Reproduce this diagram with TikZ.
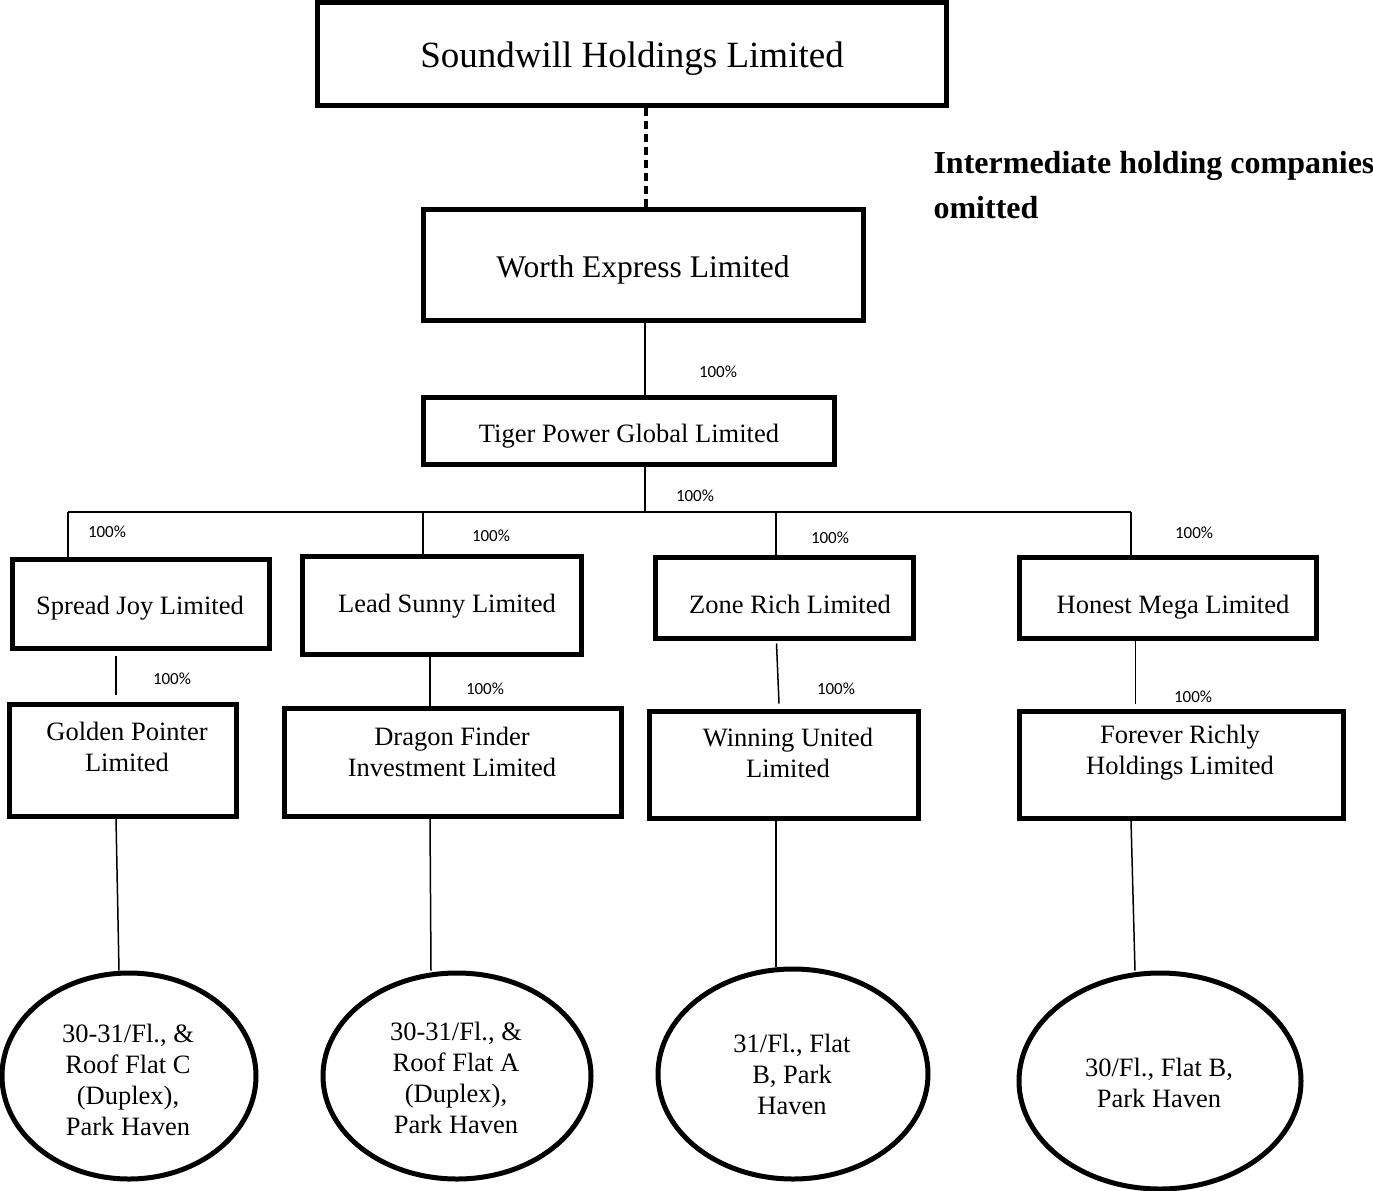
\documentclass[tikz,border=0pt]{standalone}
\usepackage{fontspec}
\setmainfont{Liberation Serif}
\newfontfamily\pctfont{Carlito}
\usetikzlibrary{shapes.geometric}
\begin{document}
\begin{tikzpicture}[x=1pt,y=-1pt,
  box/.style={draw,rectangle,line width=5pt,inner sep=0pt},
  oval/.style={draw,ellipse,line width=5pt,inner sep=0pt},
  txt/.style={align=center,font=\fontsize{26.5}{31}\selectfont},
  pct/.style={font=\pctfont\fontsize{17}{20}\selectfont},
  conn/.style={line width=1.5pt},
  dotline/.style={line width=4pt,dash pattern=on 8pt off 5pt}]
\useasboundingbox (0,0) rectangle (1373,1191);

% boxes
\node[box,minimum width=629pt,minimum height=103pt] (sw) at (631.5,53.5) {};
\node[box,minimum width=440pt,minimum height=111pt] (we) at (643,264.5) {};
\node[box,minimum width=411pt,minimum height=67pt] (tp) at (628.5,430.5) {};
\node[box,minimum width=257.5pt,minimum height=89pt] (sj) at (141,603.5) {};
\node[box,minimum width=279pt,minimum height=98pt] (ls) at (441.5,605) {};
\node[box,minimum width=258pt,minimum height=81pt] (zr) at (784,597.5) {};
\node[box,minimum width=297pt,minimum height=81pt] (hm) at (1167.5,597.5) {};
\node[box,minimum width=227pt,minimum height=112pt] (gp) at (122.5,760) {};
\node[box,minimum width=337pt,minimum height=108pt] (df) at (452.5,762) {};
\node[box,minimum width=269pt,minimum height=107pt] (wu) at (783.5,764.5) {};
\node[box,minimum width=324pt,minimum height=107pt] (fr) at (1181,764.5) {};

% ellipses
\node[oval,minimum width=254pt,minimum height=206pt] (e1) at (129,1076) {};
\node[oval,minimum width=268pt,minimum height=206pt] (e2) at (457,1076) {};
\node[oval,minimum width=270pt,minimum height=210pt] (e3) at (793,1074) {};
\node[oval,minimum width=282pt,minimum height=216pt] (e4) at (1160,1081) {};

% texts
\node[align=center,font=\fontsize{37}{44}\selectfont] (tsw) at (632,59) {Soundwill Holdings Limited};
\node[align=center,font=\fontsize{31.5}{37}\selectfont] (twe) at (643,269.5) {Worth Express Limited};
\node[txt] (ttp) at (629,436) {Tiger Power Global Limited};
\node[txt] (tsj) at (140,608) {Spread Joy Limited};
\node[txt] (tls) at (447,606) {Lead Sunny Limited};
\node[txt] (tzr) at (790,604) {Zone Rich Limited};
\node[txt] (thm) at (1173,607) {Honest Mega Limited};
\node[txt] (tgp) at (127,747) {Golden Pointer\\Limited};
\node[txt] (tdf) at (452,752) {Dragon Finder\\Investment Limited};
\node[txt] (twu) at (788,753) {Winning United\\Limited};
\node[txt] (tfr) at (1180,753) {Forever Richly\\Holdings Limited};
\node[txt] (te1) at (128,1080) {30-31/Fl., \&\\Roof Flat C\\(Duplex),\\Park Haven};
\node[txt] (te2) at (456,1077.5) {30-31/Fl., \&\\Roof Flat A\\(Duplex),\\Park Haven};
\node[txt] (te3) at (792,1074) {31/Fl., Flat\\B, Park\\Haven};
\node[txt] (te4) at (1159,1082.5) {30/Fl., Flat B,\\Park Haven};
\node[anchor=west,align=left,font=\bfseries\fontsize{32}{45}\selectfont] (note) at (930,185.5) {Intermediate holding companies\\omitted};

% connectors
\draw[dotline] ([xshift=14.5pt]sw.south) -- ([xshift=3pt]we.north);
\draw[conn] ([xshift=2pt]we.south) -- ([xshift=16.5pt]tp.north);
\coordinate (bar) at (645,512);
\coordinate (b1) at (68,512);
\coordinate (b2) at (423,512);
\coordinate (b3) at (776,512);
\coordinate (b4) at (1131,512);
\draw[conn] ([xshift=16.5pt]tp.south) -- (bar);
\draw[conn] (b1) -- (b4);
\draw[conn] (b1) -- (b1 |- sj.north);
\draw[conn] (b2) -- (b2 |- ls.north);
\draw[conn] (b3) -- (b3 |- zr.north);
\draw[conn] (b4) -- (b4 |- hm.north);
\draw[conn] ([xshift=-25pt,yshift=-5pt]sj.south) -- ([xshift=-6.5pt,yshift=7pt]gp.north);
\draw[conn] ([xshift=-11.5pt]ls.south) -- ([xshift=-22.5pt]df.north);
\draw[conn] ([xshift=-7.5pt,yshift=-3pt]zr.south) -- ([xshift=-4.5pt,yshift=5pt]wu.north);
\draw[conn] ([xshift=-32pt]hm.south) -- ([xshift=-45.5pt,yshift=5pt]fr.north);
\draw[conn] ([xshift=-6.5pt]gp.south) -- ([xshift=-10pt]e1.north);
\draw[conn] ([xshift=-22.5pt]df.south) -- ([xshift=-26pt]e2.north);
\draw[conn] ([xshift=-7.5pt]wu.south) -- ([xshift=-17pt]e3.north);
\draw[conn] ([xshift=-50pt]fr.south) -- ([xshift=-25pt]e4.north);

% percentages
\node[pct] (p1) at (718,372) {100\%};
\node[pct] (p2) at (695,496) {100\%};
\node[pct] (p3) at (107,532) {100\%};
\node[pct] (p4) at (491,536) {100\%};
\node[pct] (p5) at (830,538) {100\%};
\node[pct] (p6) at (1194,533) {100\%};
\node[pct] (p7) at (172,679) {100\%};
\node[pct] (p8) at (485,689) {100\%};
\node[pct] (p9) at (836,689) {100\%};
\node[pct] (p10) at (1193,697) {100\%};
\end{tikzpicture}
\end{document}
